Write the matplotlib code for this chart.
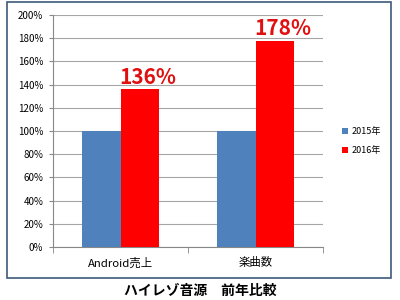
import matplotlib
matplotlib.use("Agg")
import matplotlib.pyplot as plt
from matplotlib.patches import Rectangle
import numpy as np

plt.rcParams['font.family'] = ['Noto Sans CJK JP', 'DejaVu Sans']

categories = ["Android売上", "楽曲数"]
series_names = ["2015年", "2016年"]
values_2015 = [100, 100]
values_2016 = [136, 178]
labels_2016 = ["136%", "178%"]
yticks = [0, 20, 40, 60, 80, 100, 120, 140, 160, 180, 200]

fig = plt.figure(figsize=(4, 3), dpi=100)
W, H = 400, 300
ax = fig.add_axes([53 / W, 1 - 247 / H, 270 / W, 232 / H])

x = np.arange(len(categories))
bw = 0.285
ax.bar(x - bw / 2, values_2015, bw, color="#4F81BD", label=series_names[0], zorder=3)
ax.bar(x + bw / 2, values_2016, bw, color="#FF0000", label=series_names[1], zorder=3)

for xi, v, t in zip(x, values_2016, labels_2016):
    ax.text(xi + bw / 2 + 0.06, v + 1.5, t, ha="center", va="bottom", color="#E01010",
            fontsize=15, fontweight="bold", zorder=4)

ax.set_xlim(-0.5, 1.5)
ax.set_ylim(0, 200)
ax.set_yticks(yticks)
ax.set_yticklabels([f"{v}%" for v in yticks], fontsize=7)
ax.yaxis.grid(True, color="#A6A6A6", linewidth=0.8, zorder=0)
ax.set_axisbelow(True)

ax.set_xticks(x)
ax.set_xticklabels(categories, fontsize=8.2)
ax.tick_params(axis="x", which="major", length=0, pad=7.5)
ax.set_xticks([-0.5, 0.5, 1.5], minor=True)
ax.tick_params(axis="x", which="minor", length=4, color="#888888", direction="out")
ax.tick_params(axis="y", length=3, color="#888888", pad=4)

for s in ["top", "right"]:
    ax.spines[s].set_visible(False)
ax.spines["left"].set_color("#888888")
ax.spines["bottom"].set_color("#888888")

leg = fig.legend(loc="center left", bbox_to_anchor=(334 / W, 1 - 141 / H), frameon=False,
                 fontsize=6.5, handlelength=0.7, handleheight=0.7, handletextpad=0.3,
                 labelspacing=1.1)

border = Rectangle((7 / W, 1 - 278 / H), 384 / W, 276 / H, transform=fig.transFigure,
                   fill=False, edgecolor="#3E5A7A", linewidth=1.2)
fig.patches.append(border)

fig.text(200 / W, 1 - 291 / H, "ハイレゾ音源　前年比較", ha="center", va="center",
         fontsize=10, fontweight="bold")

fig.savefig("out.png", dpi=100)
